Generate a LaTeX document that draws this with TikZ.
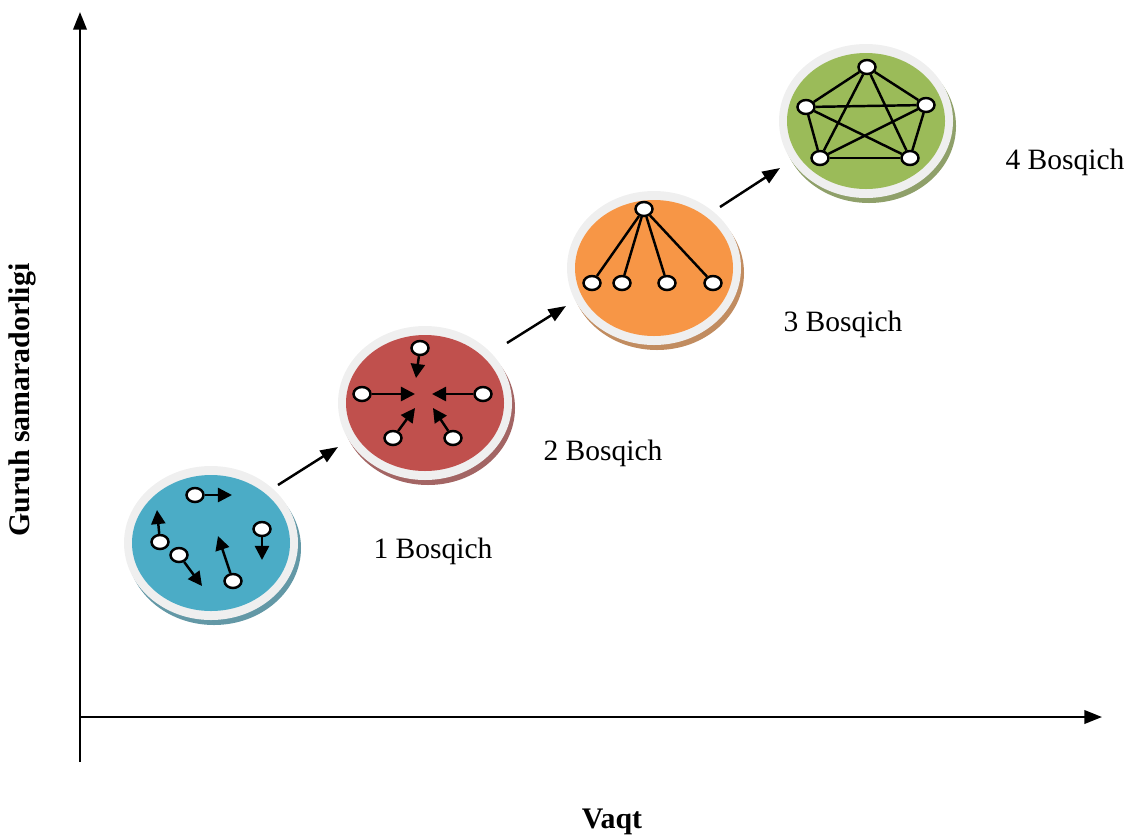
\documentclass[tikz,border=0pt]{standalone}
\usepackage{fontspec}
\setmainfont{Liberation Serif}
\usetikzlibrary{shapes.geometric,arrows.meta,shadows}
\definecolor{rim}{HTML}{EFEFEF}
\definecolor{aqua}{HTML}{4BACC6}
\definecolor{brick}{HTML}{C0504D}
\definecolor{tangerine}{HTML}{F79646}
\definecolor{olive}{HTML}{9BBB59}
\begin{document}
\begin{tikzpicture}[
    disc/.style={ellipse, minimum width=1.74cm, minimum height=1.54cm, fill=rim,
        drop shadow={shadow xshift=0.03cm, shadow yshift=-0.05cm, opacity=1, fill=#1!55!gray}},
    core/.style={ellipse, minimum width=1.58cm, minimum height=1.36cm, fill=#1},
    member/.style={ellipse, draw, fill=white, line width=0.7pt, minimum width=0.17cm, minimum height=0.14cm, inner sep=0pt},
    move/.style={-{Triangle[length=4pt,width=4pt]}, line width=0.7pt},
    link/.style={line width=0.7pt},
    axis/.style={-{Triangle[length=5pt,width=3.8pt]}, line width=0.7pt},
    stage/.style={font=\fontsize{8.4}{10}\selectfont}
]
    \useasboundingbox (0,0) rectangle (11.26,8.36);

    % axes
    \coordinate (o) at (0.8,1.19);
    \coordinate (ytop) at (0.8,8.24);
    \coordinate (ybot) at (0.8,0.74);
    \coordinate (xend) at (11.02,1.19);
    \draw[axis] (ybot) -- (ytop);
    \draw[axis] (o) -- (xend);
    \node[font=\bfseries\fontsize{8.5}{10}\selectfont] (xlab) at (6.12,0.14) {Vaqt};
    \node[font=\bfseries\fontsize{8.5}{10}\selectfont, rotate=90] (ylab) at (0.22,4.36) {Guruh samaradorligi};

    % discs
    \node[disc=aqua] (d1) at (2.11,2.93) {};
    \node[disc=brick] (d2) at (4.25,4.33) {};
    \node[disc=tangerine] (d3) at (6.54,5.68) {};
    \node[disc=olive] (d4) at (8.66,7.15) {};
    \node[core=aqua] (c1) at (d1) {};
    \node[core=brick] (c2) at (d2) {};
    \node[core=tangerine] (c3) at (d3) {};
    \node[core=olive] (c4) at (d4) {};

    \draw[axis] ([shift={(0.67,0.58)}]d1.center) -- ([shift={(-0.87,-0.44)}]d2.center);
    \draw[axis] ([shift={(0.82,0.60)}]d2.center) -- ([shift={(-0.88,-0.38)}]d3.center);
    \draw[axis] ([shift={(0.66,0.61)}]d3.center) -- ([shift={(-0.86,-0.47)}]d4.center);

    \node[stage] (l1) at ([shift={(2.22,-0.08)}]d1) {1 Bosqich};
    \node[stage] (l2) at ([shift={(1.78,-0.50)}]d2) {2 Bosqich};
    \node[stage] (l3) at ([shift={(1.89,-0.56)}]d3) {3 Bosqich};
    \node[stage] (l4) at ([shift={(1.99,-0.41)}]d4) {4 Bosqich};

    % stage 1
    \node[member] (a1) at ([shift={(-0.16,0.48)}]d1) {};
    \node[member] (a2) at ([shift={(-0.51,0.01)}]d1) {};
    \node[member] (a3) at ([shift={(-0.32,-0.12)}]d1) {};
    \node[member] (a4) at ([shift={(0.22,-0.38)}]d1) {};
    \node[member] (a5) at ([shift={(0.51,0.14)}]d1) {};
    \draw[move] (a1) -- ++(0.37,0);
    \draw[move] (a2) -- ++(-0.03,0.32);
    \draw[move] (a3) -- ++(0.23,-0.31);
    \draw[move] (a4) -- ++(-0.15,0.45);
    \draw[move] (a5) -- ++(0,-0.31);

    % stage 2
    \node[member] (b1) at ([shift={(-0.05,0.55)}]d2) {};
    \node[member] (b2) at ([shift={(-0.63,0.09)}]d2) {};
    \node[member] (b3) at ([shift={(0.58,0.09)}]d2) {};
    \node[member] (b4) at ([shift={(-0.32,-0.35)}]d2) {};
    \node[member] (b5) at ([shift={(0.28,-0.35)}]d2) {};
    \draw[move] (b1) -- ++(-0.04,-0.30);
    \draw[move] (b2) -- ++(0.53,0);
    \draw[move] (b3) -- ++(-0.51,0);
    \draw[move] (b4) -- ++(0.22,0.30);
    \draw[move] (b5) -- ++(-0.20,0.30);

    % stage 3
    \node[member] (e1) at ([shift={(-0.10,0.59)}]d3) {};
    \node[member] (e2) at ([shift={(-0.62,-0.15)}]d3) {};
    \node[member] (e3) at ([shift={(-0.32,-0.15)}]d3) {};
    \node[member] (e4) at ([shift={(0.13,-0.15)}]d3) {};
    \node[member] (e5) at ([shift={(0.59,-0.15)}]d3) {};
    \draw[link] (e1) -- (e2);
    \draw[link] (e1) -- (e3);
    \draw[link] (e1) -- (e4);
    \draw[link] (e1) -- (e5);

    % stage 4
    \node[member] (g1) at ([shift={(0.01,0.54)}]d4) {};
    \node[member] (g2) at ([shift={(-0.60,0.14)}]d4) {};
    \node[member] (g3) at ([shift={(0.60,0.16)}]d4) {};
    \node[member] (g4) at ([shift={(-0.46,-0.37)}]d4) {};
    \node[member] (g5) at ([shift={(0.44,-0.37)}]d4) {};
    \draw[link] (g1) -- (g2);
    \draw[link] (g1) -- (g3);
    \draw[link] (g1) -- (g4);
    \draw[link] (g1) -- (g5);
    \draw[link] (g2) -- (g3);
    \draw[link] (g2) -- (g4);
    \draw[link] (g2) -- (g5);
    \draw[link] (g3) -- (g4);
    \draw[link] (g3) -- (g5);
    \draw[link] (g4) -- (g5);
\end{tikzpicture}
\end{document}
